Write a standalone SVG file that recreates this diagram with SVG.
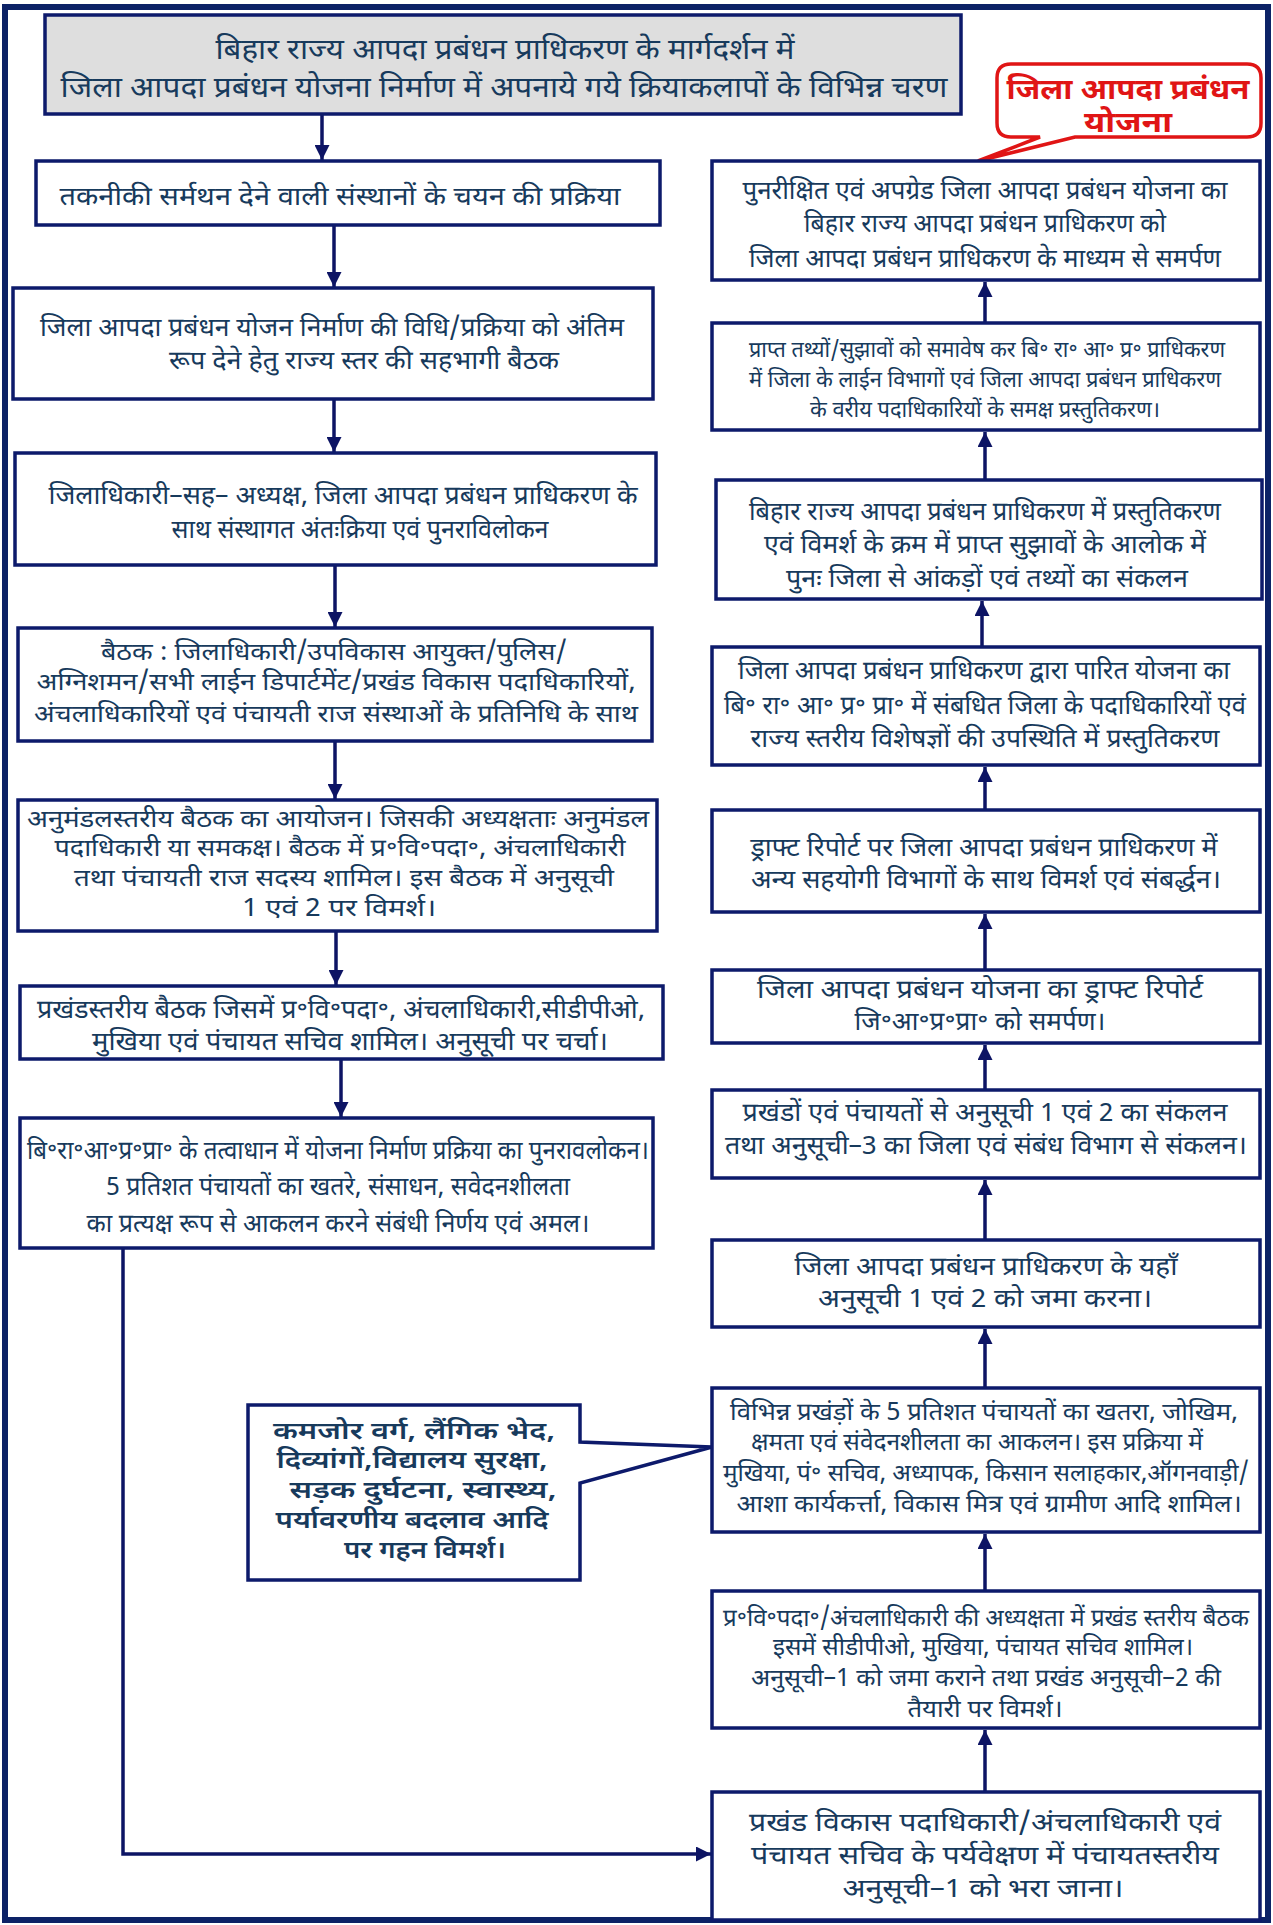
<svg xmlns="http://www.w3.org/2000/svg" width="1273" height="1925" viewBox="0 0 1273 1925">
<style>
.bx{fill:#fff;stroke:#0d1a6b;stroke-width:3.5}
.t{font-family:"Noto Sans Devanagari","Noto Sans","Lohit Devanagari",sans-serif;font-size:26px;fill:#173a5c;text-anchor:middle}
.ti{font-size:29px}
.sm{font-size:22px}
.tt{font-size:24.5px}
.nb{font-size:24px;font-weight:600}
.red{fill:#e01515;font-size:28px;font-weight:bold}
.c{fill:none;stroke:#0d1464;stroke-width:3.5}
</style>
<defs>
<marker id="ah" viewBox="0 0 10 10" refX="10" refY="5" markerWidth="17" markerHeight="15" orient="auto" markerUnits="userSpaceOnUse">
<path d="M0,0 L10,5 L0,10 Z" fill="#0d1464"/>
</marker>
</defs>
<rect x="0" y="0" width="1273" height="1925" fill="#fff"/>
<rect x="5" y="7" width="1263" height="1913" fill="none" stroke="#0c2266" stroke-width="6"/>

<g id="connectors">
<line class="c" x1="322" y1="114" x2="322" y2="160" marker-end="url(#ah)"/>
<line class="c" x1="334" y1="225" x2="334" y2="287" marker-end="url(#ah)"/>
<line class="c" x1="334" y1="399" x2="334" y2="452" marker-end="url(#ah)"/>
<line class="c" x1="335" y1="565" x2="335" y2="627" marker-end="url(#ah)"/>
<line class="c" x1="335" y1="741" x2="335" y2="799" marker-end="url(#ah)"/>
<line class="c" x1="336" y1="931" x2="336" y2="985" marker-end="url(#ah)"/>
<line class="c" x1="341" y1="1059" x2="341" y2="1117" marker-end="url(#ah)"/>
<path class="c" d="M123,1248 V1854 H711" marker-end="url(#ah)"/>
<line class="c" x1="985" y1="1792" x2="985" y2="1730" marker-end="url(#ah)"/>
<line class="c" x1="985" y1="1591" x2="985" y2="1534" marker-end="url(#ah)"/>
<line class="c" x1="985" y1="1388" x2="985" y2="1329" marker-end="url(#ah)"/>
<line class="c" x1="985" y1="1240" x2="985" y2="1180" marker-end="url(#ah)"/>
<line class="c" x1="985" y1="1090" x2="985" y2="1045" marker-end="url(#ah)"/>
<line class="c" x1="985" y1="970" x2="985" y2="914" marker-end="url(#ah)"/>
<line class="c" x1="985" y1="810" x2="985" y2="767" marker-end="url(#ah)"/>
<line class="c" x1="982" y1="647" x2="982" y2="601" marker-end="url(#ah)"/>
<line class="c" x1="985" y1="480" x2="985" y2="432" marker-end="url(#ah)"/>
<line class="c" x1="985" y1="323" x2="985" y2="282" marker-end="url(#ah)"/>
</g>

<g id="title">
<rect x="45" y="15" width="916" height="99" fill="#dedede" stroke="#0d1a6b" stroke-width="3.5"/>
<text class="t ti" x="505" y="59" textLength="579" lengthAdjust="spacingAndGlyphs">बिहार राज्य आपदा प्रबंधन प्राधिकरण के मार्गदर्शन में</text>
<text class="t ti" x="504" y="97" textLength="887" lengthAdjust="spacingAndGlyphs">जिला आपदा प्रबंधन योजना निर्माण में अपनाये गये क्रियाकलापों के विभिन्न चरण</text>
</g>

<g id="plan-callout">
<path d="M1011,64 H1247 Q1261,64 1261,78 V123 Q1261,137 1247,137 H1075 L978,161 L1040,137 H1011 Q997,137 997,123 V78 Q997,64 1011,64 Z" fill="#fff" stroke="#e01515" stroke-width="3.5"/>
<text class="t red" x="1128" y="99" textLength="243" lengthAdjust="spacingAndGlyphs">जिला आपदा प्रबंधन</text>
<text class="t red" x="1128" y="132" textLength="88" lengthAdjust="spacingAndGlyphs">योजना</text>
</g>

<g id="L1">
<rect class="bx" x="36" y="161" width="624" height="64"/>
<text class="t" x="340" y="205" textLength="561" lengthAdjust="spacingAndGlyphs">तकनीकी सर्मथन देने वाली संस्थानों के चयन की प्रक्रिया</text>
</g>
<g id="L2">
<rect class="bx" x="13" y="288" width="640" height="111"/>
<text class="t" x="332" y="336" textLength="584" lengthAdjust="spacingAndGlyphs">जिला आपदा प्रबंधन योजन निर्माण की विधि/प्रक्रिया को अंतिम</text>
<text class="t" x="364" y="369" textLength="390" lengthAdjust="spacingAndGlyphs">रूप देने हेतु राज्य स्तर की सहभागी बैठक</text>
</g>
<g id="L3">
<rect class="bx" x="15" y="453" width="641" height="112"/>
<text class="t" x="343" y="504" textLength="589" lengthAdjust="spacingAndGlyphs">जिलाधिकारी–सह– अध्यक्ष, जिला आपदा प्रबंधन प्राधिकरण के</text>
<text class="t" x="360" y="538" textLength="377" lengthAdjust="spacingAndGlyphs">साथ संस्थागत अंतःक्रिया एवं पुनराविलोकन</text>
</g>
<g id="L4">
<rect class="bx" x="18" y="628" width="634" height="113"/>
<text class="t tt" x="334" y="660" textLength="466" lengthAdjust="spacingAndGlyphs">बैठक : जिलाधिकारी/उपविकास आयुक्त/पुलिस/</text>
<text class="t tt" x="336" y="690" textLength="599" lengthAdjust="spacingAndGlyphs">अग्निशमन/सभी लाईन डिपार्टमेंट/प्रखंड विकास पदाधिकारियों,</text>
<text class="t tt" x="336" y="722" textLength="604" lengthAdjust="spacingAndGlyphs">अंचलाधिकारियों एवं पंचायती राज संस्थाओं के प्रतिनिधि के साथ</text>
</g>
<g id="L5">
<rect class="bx" x="18" y="800" width="639" height="131"/>
<text class="t tt" x="338" y="827" textLength="622" lengthAdjust="spacingAndGlyphs">अनुमंडलस्तरीय बैठक का आयोजन। जिसकी अध्यक्षताः अनुमंडल</text>
<text class="t tt" x="340" y="856" textLength="571" lengthAdjust="spacingAndGlyphs">पदाधिकारी या समकक्ष।  बैठक में प्र॰वि॰पदा॰, अंचलाधिकारी</text>
<text class="t tt" x="344" y="886" textLength="540" lengthAdjust="spacingAndGlyphs">तथा पंचायती राज सदस्य शामिल। इस बैठक में अनुसूची</text>
<text class="t tt" x="339" y="916" textLength="194" lengthAdjust="spacingAndGlyphs">1 एवं 2 पर विमर्श।</text>
</g>
<g id="L6">
<rect class="bx" x="20" y="986" width="643" height="73"/>
<text class="t" x="341" y="1018" textLength="608" lengthAdjust="spacingAndGlyphs">प्रखंडस्तरीय बैठक जिसमें प्र॰वि॰पदा॰, अंचलाधिकारी,सीडीपीओ,</text>
<text class="t" x="350" y="1050" textLength="516" lengthAdjust="spacingAndGlyphs">मुखिया एवं पंचायत सचिव शामिल। अनुसूची पर चर्चा।</text>
</g>
<g id="L7">
<rect class="bx" x="20" y="1118" width="633" height="130"/>
<text class="t" x="338" y="1159" textLength="622" lengthAdjust="spacingAndGlyphs">बि॰रा॰आ॰प्र॰प्रा॰ के तत्वाधान में योजना निर्माण प्रक्रिया का पुनरावलोकन।</text>
<text class="t" x="338" y="1195" textLength="464" lengthAdjust="spacingAndGlyphs">5 प्रतिशत पंचायतों का खतरे, संसाधन, सवेदनशीलता</text>
<text class="t" x="338" y="1232" textLength="503" lengthAdjust="spacingAndGlyphs">का प्रत्यक्ष रूप से आकलन करने संबंधी निर्णय एवं अमल।</text>
</g>

<g id="note-callout">
<path d="M248,1405 H580 V1442 L712,1447 L580,1483 V1580 H248 Z" fill="#fff" stroke="#0d1a6b" stroke-width="3.5"/>
<text class="t nb" x="414" y="1439" textLength="282" lengthAdjust="spacingAndGlyphs">कमजोर वर्ग, लैंगिक भेद,</text>
<text class="t nb" x="412" y="1468" textLength="271" lengthAdjust="spacingAndGlyphs">दिव्यांगों,विद्यालय सुरक्षा,</text>
<text class="t nb" x="423" y="1498" textLength="267" lengthAdjust="spacingAndGlyphs">सड़क दुर्घटना, स्वास्थ्य,</text>
<text class="t nb" x="412" y="1528" textLength="273" lengthAdjust="spacingAndGlyphs">पर्यावरणीय बदलाव आदि</text>
<text class="t nb" x="425" y="1558" textLength="162" lengthAdjust="spacingAndGlyphs">पर गहन विमर्श।</text>
</g>

<g id="R1">
<rect class="bx" x="712" y="161" width="548" height="119"/>
<text class="t" x="985" y="199" textLength="485" lengthAdjust="spacingAndGlyphs">पुनरीक्षित एवं अपग्रेड जिला आपदा प्रबंधन योजना का</text>
<text class="t" x="985" y="232" textLength="362" lengthAdjust="spacingAndGlyphs">बिहार राज्य आपदा प्रबंधन प्राधिकरण को</text>
<text class="t" x="985" y="267" textLength="472" lengthAdjust="spacingAndGlyphs">जिला आपदा प्रबंधन प्राधिकरण के माध्यम से समर्पण</text>
</g>
<g id="R2">
<rect class="bx" x="712" y="323" width="548" height="107"/>
<text class="t sm" x="987" y="357" textLength="476" lengthAdjust="spacingAndGlyphs">प्राप्त तथ्यों/सुझावों को समावेष कर बि॰ रा॰ आ॰ प्र॰ प्राधिकरण</text>
<text class="t sm" x="985" y="387" textLength="472" lengthAdjust="spacingAndGlyphs">में जिला के लाईन विभागों एवं जिला आपदा प्रबंधन प्राधिकरण</text>
<text class="t sm" x="985" y="417" textLength="350" lengthAdjust="spacingAndGlyphs">के वरीय पदाधिकारियों के समक्ष प्रस्तुतिकरण।</text>
</g>
<g id="R3">
<rect class="bx" x="716" y="480" width="546" height="119"/>
<text class="t" x="985" y="520" textLength="472" lengthAdjust="spacingAndGlyphs">बिहार राज्य आपदा प्रबंधन प्राधिकरण में प्रस्तुतिकरण</text>
<text class="t" x="985" y="553" textLength="442" lengthAdjust="spacingAndGlyphs">एवं विमर्श के क्रम में प्राप्त सुझावों के आलोक में</text>
<text class="t" x="987" y="587" textLength="402" lengthAdjust="spacingAndGlyphs">पुनः जिला से आंकड़ों एवं तथ्यों का संकलन</text>
</g>
<g id="R4">
<rect class="bx" x="712" y="647" width="548" height="118"/>
<text class="t" x="984" y="679" textLength="492" lengthAdjust="spacingAndGlyphs">जिला आपदा प्रबंधन प्राधिकरण द्वारा पारित योजना का</text>
<text class="t" x="985" y="714" textLength="522" lengthAdjust="spacingAndGlyphs">बि॰ रा॰ आ॰ प्र॰ प्रा॰ में संबधित जिला के पदाधिकारियों एवं</text>
<text class="t" x="985" y="747" textLength="469" lengthAdjust="spacingAndGlyphs">राज्य स्तरीय विशेषज्ञों की उपस्थिति में प्रस्तुतिकरण</text>
</g>
<g id="R5">
<rect class="bx" x="712" y="810" width="548" height="102"/>
<text class="t" x="984" y="856" textLength="467" lengthAdjust="spacingAndGlyphs">ड्राफ्ट रिपोर्ट पर जिला आपदा प्रबंधन प्राधिकरण में</text>
<text class="t" x="986" y="888" textLength="470" lengthAdjust="spacingAndGlyphs">अन्य सहयोगी विभागों के साथ विमर्श एवं संबर्द्धन।</text>
</g>
<g id="R6">
<rect class="bx" x="712" y="970" width="548" height="73"/>
<text class="t" x="980" y="998" textLength="446" lengthAdjust="spacingAndGlyphs">जिला आपदा प्रबंधन योजना का ड्राफ्ट रिपोर्ट</text>
<text class="t" x="980" y="1030" textLength="251" lengthAdjust="spacingAndGlyphs">जि॰आ॰प्र॰प्रा॰ को समर्पण।</text>
</g>
<g id="R7">
<rect class="bx" x="712" y="1090" width="548" height="88"/>
<text class="t" x="985" y="1121" textLength="485" lengthAdjust="spacingAndGlyphs">प्रखंडों एवं पंचायतों से अनुसूची 1 एवं 2 का संकलन</text>
<text class="t" x="986" y="1154" textLength="522" lengthAdjust="spacingAndGlyphs">तथा अनुसूची–3 का जिला एवं संबंध विभाग से संकलन।</text>
</g>
<g id="R8">
<rect class="bx" x="712" y="1240" width="548" height="87"/>
<text class="t" x="986" y="1275" textLength="383" lengthAdjust="spacingAndGlyphs">जिला आपदा प्रबंधन प्राधिकरण के यहाँ</text>
<text class="t" x="985" y="1307" textLength="334" lengthAdjust="spacingAndGlyphs">अनुसूची 1 एवं 2 को जमा करना।</text>
</g>
<g id="R9">
<rect class="bx" x="712" y="1388" width="548" height="144"/>
<text class="t tt" x="984" y="1420" textLength="508" lengthAdjust="spacingAndGlyphs">विभिन्न प्रखंड़ों के 5 प्रतिशत पंचायतों का खतरा, जोखिम,</text>
<text class="t tt" x="977" y="1450" textLength="452" lengthAdjust="spacingAndGlyphs">क्षमता एवं संवेदनशीलता का आकलन। इस प्रक्रिया में</text>
<text class="t tt" x="986" y="1481" textLength="526" lengthAdjust="spacingAndGlyphs">मुखिया, पं॰ सचिव, अध्यापक, किसान सलाहकार,ऑगनवाड़ी/</text>
<text class="t tt" x="989" y="1512" textLength="505" lengthAdjust="spacingAndGlyphs">आशा कार्यकर्त्ता, विकास मित्र एवं ग्रामीण आदि शामिल।</text>
</g>
<g id="R10">
<rect class="bx" x="712" y="1591" width="548" height="137"/>
<text class="t tt" x="986" y="1626" textLength="526" lengthAdjust="spacingAndGlyphs">प्र॰वि॰पदा॰/अंचलाधिकारी की अध्यक्षता में प्रखंड स्तरीय बैठक</text>
<text class="t tt" x="983" y="1655" textLength="420" lengthAdjust="spacingAndGlyphs">इसमें सीडीपीओ, मुखिया, पंचायत सचिव शामिल।</text>
<text class="t tt" x="986" y="1686" textLength="470" lengthAdjust="spacingAndGlyphs">अनुसूची–1 को जमा कराने तथा प्रखंड अनुसूची–2 की</text>
<text class="t tt" x="985" y="1717" textLength="155" lengthAdjust="spacingAndGlyphs">तैयारी पर विमर्श।</text>
</g>
<g id="R11">
<rect class="bx" x="712" y="1792" width="548" height="128"/>
<text class="t" x="985" y="1831" textLength="472" lengthAdjust="spacingAndGlyphs">प्रखंड विकास पदाधिकारी/अंचलाधिकारी एवं</text>
<text class="t" x="985" y="1864" textLength="468" lengthAdjust="spacingAndGlyphs">पंचायत सचिव के पर्यवेक्षण में पंचायतस्तरीय</text>
<text class="t" x="983" y="1897" textLength="281" lengthAdjust="spacingAndGlyphs">अनुसूची–1 को भरा जाना।</text>
</g>
</svg>
